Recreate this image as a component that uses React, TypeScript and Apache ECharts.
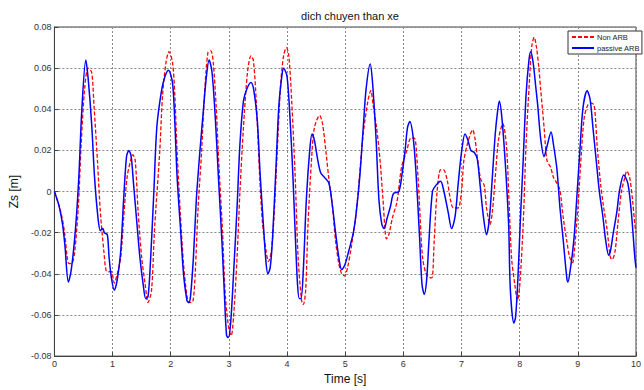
import React, { useEffect, useRef } from "react";
import * as echarts from "echarts";

const titleText = "dich chuyen than xe";
const xAxisName = "Time [s]";
const yAxisName = "Zs [m]";
const nonArbName = "Non ARB";
const passiveName = "passive ARB";

const xMin = 0;
const xMax = 10;
const xStep = 1;
const yMin = -0.08;
const yMax = 0.08;
const yStep = 0.02;

const nonArbTime = [
  0, 0.11, 0.17, 0.22, 0.25, 0.31, 0.35, 0.41, 0.46, 0.52, 0.58, 0.64, 0.68, 0.74, 0.79, 0.85, 0.89, 0.94, 0.98,
  1.03, 1.08, 1.14, 1.19, 1.25, 1.31, 1.35, 1.39, 1.44, 1.5, 1.56, 1.61, 1.67, 1.72, 1.81, 1.86, 1.92, 1.97,
  2.03, 2.07, 2.11, 2.17, 2.22, 2.28, 2.32, 2.38, 2.42, 2.47, 2.53, 2.58, 2.64, 2.69, 2.73, 2.78, 2.83, 2.89, 2.94,
  3.0, 3.04, 3.08, 3.14, 3.19, 3.25, 3.32, 3.38, 3.42, 3.47, 3.53, 3.58, 3.64, 3.68, 3.73, 3.78, 3.83, 3.89, 3.94, 3.99,
  4.03, 4.08, 4.14, 4.19, 4.25, 4.28, 4.32, 4.36, 4.42, 4.47, 4.56, 4.61, 4.67, 4.72, 4.78, 4.83, 4.89, 4.94, 4.99,
  5.04, 5.11, 5.19, 5.25, 5.31, 5.39, 5.44, 5.48, 5.54, 5.6, 5.65, 5.71, 5.75, 5.81, 5.89, 5.97,
  6.06, 6.13, 6.19, 6.25, 6.28, 6.33, 6.39, 6.44, 6.49, 6.53, 6.58, 6.64, 6.69, 6.75, 6.81, 6.86, 6.94,
  7.0, 7.04, 7.1, 7.16, 7.19, 7.23, 7.28, 7.33, 7.39, 7.43, 7.49, 7.53, 7.58, 7.64, 7.71, 7.77, 7.81, 7.86, 7.92, 7.96,
  8.0, 8.06, 8.11, 8.17, 8.21, 8.25, 8.29, 8.33, 8.36, 8.42, 8.47, 8.53, 8.58, 8.64, 8.69, 8.75, 8.81, 8.86, 8.91, 8.94,
  9.0, 9.06, 9.11, 9.17, 9.22, 9.28, 9.33, 9.39, 9.44, 9.5, 9.56, 9.59, 9.64, 9.69, 9.75, 9.81, 9.84, 9.89, 9.94, 9.98, 10.0,
];
const nonArbZs = [
  0, -0.01, -0.019, -0.032, -0.035, -0.0345, -0.029, -0.008, 0.023, 0.05, 0.06, 0.058, 0.042, 0.015, -0.01, -0.029, -0.0385, -0.039, -0.039,
  -0.0445, -0.04, -0.032, -0.013, 0.007, 0.015, 0.018, 0.015, -0.01, -0.032, -0.045, -0.054, -0.048, -0.019, 0.019, 0.047, 0.063, 0.068,
  0.063, 0.047, 0.019, -0.013, -0.035, -0.051, -0.054, -0.0535, -0.04, -0.008, 0.019, 0.047, 0.0676, 0.0684, 0.063, 0.042, 0.012, -0.019, -0.051,
  -0.067, -0.07, -0.061, -0.032, 0.0, 0.031, 0.058, 0.066, 0.064, 0.044, 0.007, -0.016, -0.029, -0.034, -0.029, -0.01, 0.019, 0.052, 0.066, 0.07,
  0.066, 0.044, 0.007, -0.032, -0.053, -0.055, -0.048, -0.016, 0.015, 0.031, 0.037, 0.033, 0.019, 0.006, -0.007, -0.023, -0.035, -0.04, -0.041,
  -0.037, -0.026, -0.01, 0.009, 0.028, 0.044, 0.049, 0.042, 0.031, 0.015, -0.004, -0.023, -0.021, -0.013, -0.005, 0.012,
  0.02, 0.026, 0.026, 0.008, -0.008, -0.032, -0.04, -0.0416, -0.042, -0.024, 0.0, 0.0106, 0.0106, 0.006, -0.004, -0.008, -0.008,
  0.0, 0.015, 0.023, 0.0285, 0.03, 0.026, 0.015, 0.006, 0.003, -0.008, -0.016, -0.01, 0.007, 0.026, 0.033, 0.023, 0.0, -0.032, -0.046, -0.053,
  -0.046, -0.016, 0.023, 0.055, 0.071, 0.075, 0.07, 0.06, 0.05, 0.031, 0.015, 0.012, 0.007, 0.004, 0.001, -0.013, -0.024, -0.032, -0.0345, -0.029,
  -0.008, 0.0185, 0.036, 0.042, 0.043, 0.042, 0.023, 0.004, -0.007, -0.018, -0.032, -0.033, -0.029, -0.015, 0.0, 0.007, 0.01, 0.007, -0.004, -0.016, -0.02,
];

const passiveTime = [
  0, 0.08, 0.14, 0.18, 0.24, 0.29, 0.36, 0.42, 0.47, 0.54, 0.58, 0.64, 0.69, 0.75, 0.79, 0.83, 0.86, 0.91, 0.94, 0.98,
  1.03, 1.08, 1.14, 1.19, 1.24, 1.28, 1.32, 1.36, 1.42, 1.47, 1.53, 1.57, 1.61, 1.65, 1.71, 1.76, 1.83, 1.89, 1.96,
  2.03, 2.07, 2.11, 2.17, 2.22, 2.28, 2.31, 2.34, 2.39, 2.44, 2.5, 2.56, 2.61, 2.66, 2.71, 2.77, 2.82, 2.88, 2.92, 2.96, 2.99,
  3.03, 3.08, 3.14, 3.19, 3.25, 3.31, 3.38, 3.43, 3.49, 3.54, 3.6, 3.64, 3.67, 3.71, 3.75, 3.81, 3.86, 3.91, 3.94,
  4.0, 4.06, 4.1, 4.14, 4.18, 4.21, 4.24, 4.28, 4.33, 4.39, 4.43, 4.47, 4.53, 4.58, 4.64, 4.72, 4.78, 4.83, 4.89, 4.94, 4.99,
  5.06, 5.14, 5.19, 5.25, 5.31, 5.36, 5.43, 5.47, 5.53, 5.58, 5.63, 5.67, 5.72, 5.78, 5.83, 5.92, 5.97,
  6.03, 6.07, 6.11, 6.17, 6.22, 6.28, 6.32, 6.36, 6.4, 6.44, 6.5, 6.56, 6.64, 6.69, 6.77, 6.83, 6.89, 6.94,
  7.0, 7.06, 7.11, 7.16, 7.22, 7.27, 7.32, 7.38, 7.43, 7.48, 7.53, 7.58, 7.62, 7.65, 7.69, 7.75, 7.81, 7.84, 7.9, 7.93, 7.97,
  8.01, 8.06, 8.11, 8.16, 8.19, 8.23, 8.28, 8.31, 8.36, 8.42, 8.47, 8.54, 8.58, 8.64, 8.69, 8.75, 8.81, 8.83, 8.87, 8.93, 8.98,
  9.04, 9.09, 9.16, 9.21, 9.26, 9.32, 9.37, 9.43, 9.48, 9.53, 9.56, 9.61, 9.67, 9.72, 9.79, 9.86, 9.92, 9.98, 10.0,
];
const passiveZs = [
  0, -0.007, -0.016, -0.026, -0.044, -0.038, -0.019, 0.007, 0.039, 0.064, 0.055, 0.033, 0.007, -0.013, -0.019, -0.018, -0.02, -0.021, -0.032, -0.042,
  -0.048, -0.043, -0.029, -0.004, 0.017, 0.02, 0.017, 0.004, -0.016, -0.032, -0.046, -0.052, -0.051, -0.035, 0.0, 0.031, 0.047, 0.055, 0.059,
  0.053, 0.034, 0.007, -0.019, -0.04, -0.053, -0.054, -0.051, -0.032, -0.004, 0.019, 0.039, 0.055, 0.064, 0.058, 0.034, 0.007, -0.024, -0.048, -0.07, -0.071,
  -0.064, -0.04, -0.008, 0.023, 0.044, 0.05, 0.053, 0.049, 0.034, 0.007, -0.019, -0.035, -0.04, -0.037, -0.023, 0.012, 0.042, 0.056, 0.06,
  0.056, 0.031, 0.008, -0.02, -0.045, -0.052, -0.052, -0.038, -0.005, 0.02, 0.028, 0.025, 0.015, 0.009, 0.007, 0.004, -0.007, -0.019, -0.032, -0.038, -0.036,
  -0.029, -0.02, -0.01, 0.007, 0.031, 0.05, 0.062, 0.053, 0.026, -0.004, -0.016, -0.018, -0.013, -0.007, -0.001, 0.0, 0.007,
  0.02, 0.031, 0.034, 0.026, 0.008, -0.023, -0.045, -0.05, -0.043, -0.024, 0.0, 0.003, 0.005, 0.001, -0.01, -0.018, -0.012, 0.003,
  0.019, 0.028, 0.025, 0.02, 0.019, 0.016, 0.003, -0.013, -0.021, -0.013, 0.007, 0.028, 0.039, 0.044, 0.037, 0.015, -0.016, -0.048, -0.064, -0.061, -0.042,
  -0.015, 0.015, 0.047, 0.064, 0.068, 0.063, 0.05, 0.042, 0.026, 0.017, 0.022, 0.029, 0.023, 0.011, -0.007, -0.024, -0.042, -0.044, -0.038, -0.024, -0.004,
  0.022, 0.041, 0.049, 0.045, 0.031, 0.014, 0.0, -0.012, -0.024, -0.031, -0.029, -0.02, -0.01, 0.001, 0.008, 0.004, -0.01, -0.032, -0.037,
];

const FONT = '"Liberation Sans", Arial, sans-serif';

function pairs(ts: number[], vs: number[]) {
  return ts.map((t, i) => [t, vs[i]]);
}

export default function App() {
  const ref = useRef<HTMLDivElement>(null);
  useEffect(() => {
    if (!ref.current) return;
    const chart = echarts.init(ref.current, undefined, { renderer: "svg" });
    chart.setOption({
      animation: false,
      backgroundColor: "#ffffff",
      title: {
        text: titleText,
        left: 345,
        top: 5,
        textAlign: "center",
        textStyle: { fontFamily: FONT, fontSize: 11, fontWeight: "normal", color: "#111" },
      },
      legend: {
        left: 568,
        top: 31,
        orient: "vertical",
        itemWidth: 22,
        itemHeight: 9,
        itemGap: 3,
        padding: [2, 2, 2, 3],
        backgroundColor: "#fff",
        borderColor: "#333",
        borderWidth: 1,
        borderRadius: 0,
        itemStyle: { opacity: 0, color: "rgba(0,0,0,0)", borderWidth: 0 },
        textStyle: { fontFamily: FONT, fontSize: 7.5, color: "#222", padding: [0, 0, 0, -2] },
        data: [nonArbName, passiveName],
      },
      grid: { left: 45, top: 27, width: 600, height: 336, show: true, borderColor: "#444", borderWidth: 1, backgroundColor: "#fff" },
      xAxis: {
        type: "value",
        min: xMin,
        max: xMax,
        interval: xStep,
        name: xAxisName,
        nameLocation: "middle",
        nameGap: 13,
        nameTextStyle: { fontFamily: FONT, fontSize: 12, color: "#111" },
        axisLine: { show: true, onZero: false, lineStyle: { color: "#444", width: 1 } },
        axisTick: { show: true, inside: true, length: 4, lineStyle: { color: "#444" } },
        axisLabel: { fontFamily: FONT, fontSize: 9, color: "#333", margin: 3, showMaxLabel: true },
        splitLine: { show: true, lineStyle: { color: "#888", type: [2, 2], width: 1 } },
      },
      yAxis: {
        type: "value",
        min: yMin,
        max: yMax,
        interval: yStep,
        name: yAxisName,
        nameLocation: "middle",
        nameGap: 22,
        nameTextStyle: { fontFamily: FONT, fontSize: 12, color: "#111" },
        axisLine: { show: true, onZero: false, lineStyle: { color: "#444", width: 1 } },
        axisTick: { show: true, inside: true, length: 4, lineStyle: { color: "#444" } },
        axisLabel: {
          fontFamily: FONT,
          fontSize: 9,
          color: "#333",
          margin: 3,
          formatter: (v: number) => (Math.abs(v) < 1e-9 ? "0" : v.toFixed(2)),
        },
        splitLine: { show: true, lineStyle: { color: "#888", type: [2, 2], width: 1 } },
      },
      series: [
        {
          name: nonArbName,
          type: "line",
          data: pairs(nonArbTime, nonArbZs),
          symbol: "none",
          smooth: 0.3,
          lineStyle: { color: "#ff0000", width: 1.3, type: [4, 2] },
          itemStyle: { color: "#ff0000" },
        },
        {
          name: passiveName,
          type: "line",
          data: pairs(passiveTime, passiveZs),
          symbol: "none",
          smooth: 0.3,
          lineStyle: { color: "#0000ff", width: 1.5 },
          itemStyle: { color: "#0000ff" },
        },
      ],
    });
    return () => chart.dispose();
  }, []);
  return <div ref={ref} style={{ position: "fixed", left: 0, top: 0, width: 644, height: 390 }} />;
}
